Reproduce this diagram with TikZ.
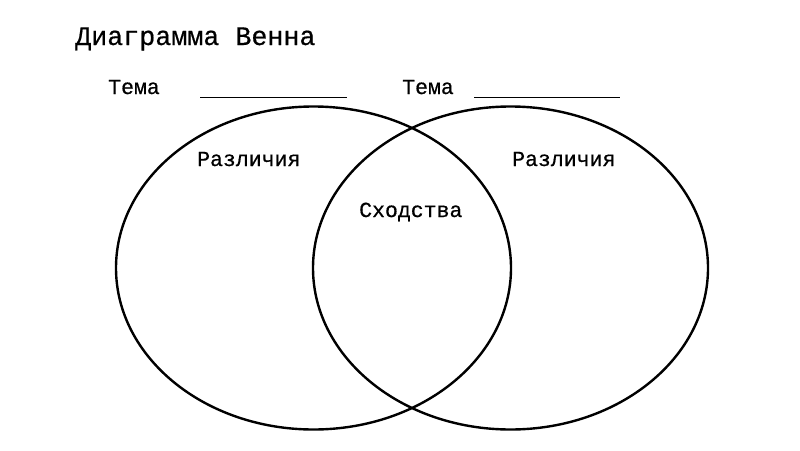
\documentclass[tikz,border=0pt]{standalone}
\usepackage{fontspec}
\setmainfont{Liberation Mono}[FakeBold=0.6,AutoFakeBold=0.6]
\usepackage{tikz}
\usetikzlibrary{shapes.geometric}

\begin{document}
\begin{tikzpicture}[x=1pt,y=-1pt]
\tikzset{
    set/.style={%
        draw=black, line width=2.4pt,
        ellipse,
        inner sep=0pt,
        minimum width=395pt,
        minimum height=323pt
        },
    lbl/.style={%
        anchor=base west,
        inner sep=0pt,
        font=\fontsize{21.5}{24}\selectfont
        },
    blank/.style={%
        draw=black, line width=1pt
        },
}
\useasboundingbox (0,0) rectangle (800,450);
%%%TITLE
\node[lbl, font=\fontsize{26.7}{30}\selectfont] (title) at (75,45) {Диаграмма Венна};
%%%TOPICS
\node[lbl] (topicA) at (108,94) {Тема};
\node[lbl] (topicB) at (402,94) {Тема};
\coordinate (blankAs) at (200,97);
\coordinate (blankAe) at (347,97);
\coordinate (blankBs) at (474,97);
\coordinate (blankBe) at (620,97);
\draw[blank] (blankAs) -- (blankAe);
\draw[blank] (blankBs) -- (blankBe);
%%%SETS
\node[set] (setA) at (313.5,268) {};
\node[set] (setB) at (510.5,268) {};
%%%LABELS
\node[lbl] (diffA) at (197,166) {Различия};
\node[lbl] (diffB) at (512,166) {Различия};
\node[lbl] (common) at (359,217) {Сходства};
\end{tikzpicture}
\end{document}
